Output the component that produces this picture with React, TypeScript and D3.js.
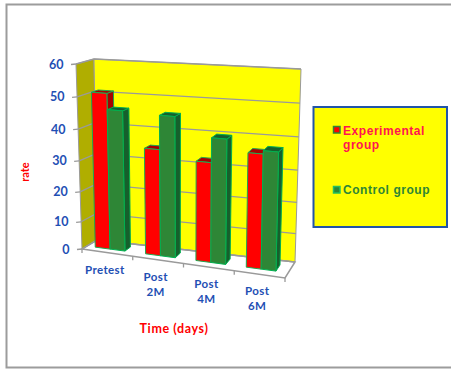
import React from "react";
import * as d3 from "d3";

const categories = [["Pretest"], ["Post", "2M"], ["Post", "4M"], ["Post", "6M"]];
const experimental = [51, 35, 32.5, 36.5];
const control = [46, 45.5, 40, 37.5];
const valueTicks = [0, 10, 20, 30, 40, 50, 60];
const WIDTH = 451;
const HEIGHT = 369;

type P = [number, number];

// Corners of the chart box: [category end][value end][depth end]
const box: P[][][] = [
  [
    [[82, 249], [97, 240]],
    [[76, 64], [94, 59]],
  ],
  [
    [[285, 278], [295, 262]],
    [[289.5, 78], [301, 69]],
  ],
];

const catScale = d3.scaleLinear().domain([0, categories.length]).range([0, 1]);
// The slight exponent gives the foreshortening of the tilted view
const valScale = d3.scalePow().exponent(1.07).domain([0, 60]).range([0, 1]);
const mix = (a: P, b: P, t: number): P => [a[0] + (b[0] - a[0]) * t, a[1] + (b[1] - a[1]) * t];

// Trilinear placement inside the box
function project(cat: number, val: number, depth: number): P {
  const t = catScale(cat);
  const v = valScale(val);
  const left = mix(mix(box[0][0][0], box[0][0][1], depth), mix(box[0][1][0], box[0][1][1], depth), v);
  const right = mix(mix(box[1][0][0], box[1][0][1], depth), mix(box[1][1][0], box[1][1][1], depth), v);
  return mix(left, right, t);
}

const poly = (pts: P[]) => (d3.line()(pts) ?? "") + "Z";
const seg = (a: P, b: P) => d3.line()([a, b]) ?? "";

const FONT = "Lato, 'Liberation Sans', sans-serif";
const BLUE = "#1f4fb4";
const GRID = "#9a9a9a";

const BAR_W = 0.295;
const OFFSET = 0.165;
const D0 = 0.33;
const D1 = 0.72;

const barStyles = [
  { front: "#ff0000", top: "#a80000", side: "#a80000", edge: "#1fa84f" },
  { front: "#2e8636", top: "#16602c", side: "#16602c", edge: "#00b050" },
];

function Bar({ c0, value, style }: { c0: number; value: number; style: (typeof barStyles)[number] }) {
  const c1 = c0 + BAR_W;
  const front = [project(c0, 0, D0), project(c1, 0, D0), project(c1, value, D0), project(c0, value, D0)];
  const side = [project(c1, 0, D0), project(c1, 0, D1), project(c1, value, D1), project(c1, value, D0)];
  const top = [project(c0, value, D0), project(c1, value, D0), project(c1, value, D1), project(c0, value, D1)];
  return (
    <g stroke={style.edge} strokeWidth={1} strokeLinejoin="round">
      <path d={poly(side)} fill={style.side} />
      <path d={poly(top)} fill={style.top} />
      <path d={poly(front)} fill={style.front} />
    </g>
  );
}

export default function App() {
  return (
    <svg
      width={WIDTH}
      height={HEIGHT}
      style={{ position: "absolute", left: 0, top: 0, display: "block", background: "#fff" }}
    >
      {/* Outer frame, open on the right */}
      <path d="M451,4.5H6.5V367.5H451" fill="none" stroke="#9c9c9c" strokeWidth={2} />

      {/* Box walls and floor */}
      <path
        d={poly([project(0, 0, 0), project(0, 0, 1), project(0, 60, 1), project(0, 60, 0)])}
        fill="#b0ae00"
        stroke={GRID}
      />
      <path
        d={poly([project(0, 0, 1), project(4, 0, 1), project(4, 60, 1), project(0, 60, 1)])}
        fill="#ffff00"
        stroke={GRID}
      />
      <path
        d={poly([project(0, 0, 0), project(4, 0, 0), project(4, 0, 1), project(0, 0, 1)])}
        fill="#ffffff"
        stroke={GRID}
        strokeWidth={1.5}
      />

      {/* Gridlines across both walls */}
      {valueTicks.map((v) => (
        <path
          key={v}
          d={d3.line()([project(0, v, 0), project(0, v, 1), project(4, v, 1)]) ?? ""}
          fill="none"
          stroke={GRID}
          strokeWidth={1.3}
        />
      ))}

      {/* Value axis */}
      {valueTicks.map((v) => {
        const p = project(0, v, 0);
        return (
          <g key={v}>
            <path d={seg(p, [p[0] - 5, p[1] + 0.5])} stroke={GRID} strokeWidth={1.3} />
            <text
              x={p[0] - 12.5}
              y={p[1]}
              textAnchor="end"
              dominantBaseline="central"
              fontFamily={FONT}
              fontWeight={700}
              fontSize={12.5}
              fill={BLUE}
            >
              {v}
            </text>
          </g>
        );
      })}

      {/* Category ticks along the front floor edge */}
      {d3.range(categories.length + 1).map((c) => {
        const p = project(c, 0, 0);
        return <path key={c} d={seg(p, [p[0], p[1] + 4])} stroke={GRID} strokeWidth={1.3} />;
      })}

      {/* Bars, left to right */}
      {categories.map((_, i) => (
        <g key={i}>
          <Bar c0={i + OFFSET} value={experimental[i]} style={barStyles[0]} />
          <Bar c0={i + OFFSET + BAR_W} value={control[i]} style={barStyles[1]} />
        </g>
      ))}

      {/* Category labels */}
      {categories.map((lines, i) => {
        const p = project(i + 0.5, 0, 0);
        return (
          <text
            key={i}
            textAnchor="middle"
            fontFamily={FONT}
            fontWeight={700}
            fontSize={11.5}
            letterSpacing={0.4}
            fill={BLUE}
          >
            {lines.map((line, j) => (
              <tspan key={j} x={p[0] - 2.5} y={p[1] + 21 + j * 15}>
                {line}
              </tspan>
            ))}
          </text>
        );
      })}

      {/* Axis titles */}
      <text x={174} y={333} textAnchor="middle" fontFamily={FONT} fontWeight={700} fontSize={12.5} letterSpacing={0.6} fill="#ff0000">
        Time (days)
      </text>
      <text
        transform="translate(29,172) rotate(-90)"
        textAnchor="middle"
        fontFamily={FONT}
        fontWeight={700}
        fontSize={11}
        fill="#ff0000"
      >
        rate
      </text>

      {/* Legend */}
      <rect x={313.5} y={107} width={133.5} height={120} fill="#ffff00" stroke="#2255a8" strokeWidth={2} />
      <rect x={333.5} y={126.5} width={6.5} height={6.5} fill="#ff0000" stroke="#2e8636" strokeWidth={1.5} />
      <text fontFamily="'Liberation Sans', Arial, sans-serif" fontWeight={700} fontSize={12} letterSpacing={0.55} fill="#ff1450">
        <tspan x={343} y={135}>Experimental</tspan>
        <tspan x={343} y={149}>group</tspan>
      </text>
      <rect x={333.5} y={186.5} width={6.5} height={6.5} fill="#2e8636" stroke="#22c060" strokeWidth={1.5} />
      <text x={343} y={194} fontFamily="'Liberation Sans', Arial, sans-serif" fontWeight={700} fontSize={12} letterSpacing={0.55} fill="#2e8636">
        Control group
      </text>
    </svg>
  );
}
